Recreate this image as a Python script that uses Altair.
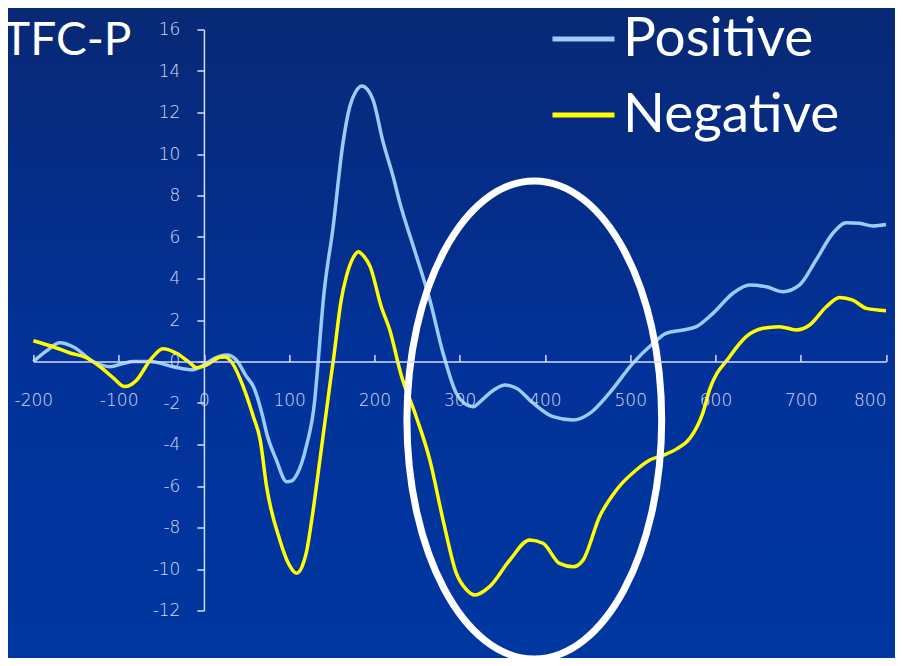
import altair as alt
import pandas as pd

# ---------------- data ----------------
series_names = ["Positive", "Negative"]
series_colors = ["#9CCBF8", "#FFFF00"]

pos_t = [-200, -185, -169, -153, -130, -110, -95, -83, -63, -36, -13, 3, 15, 27, 38, 50, 58, 69, 73.5,
         85, 97, 103, 108.7, 120, 130, 134, 140, 151.6, 163, 171, 178, 185, 192, 198.5, 210, 222, 230,
         247, 265, 280.5, 296, 305, 315.7, 325, 335, 353, 366.6, 386, 409.5, 433, 452.5, 476, 503,
         527, 542, 562, 577.6, 597, 620.5, 640, 659.6, 679, 698.7, 718, 737.7, 753.5, 769, 784.6, 800]
pos_v = [0.0, 0.5, 0.9, 0.7, 0.0, -0.25, -0.1, 0.0, 0.0, -0.25, -0.4, -0.08, 0.2, 0.31, 0.07, -0.73,
         -1.2, -2.66, -3.45, -4.75, -5.79, -5.75, -5.47, -4.1, -1.86, 0.0, 2.96, 6.5, 10.5, 12.28, 13.0,
         13.28, 13.1, 12.6, 10.6, 8.9, 7.62, 5.37, 2.96, 0.4, -1.53, -2.0, -2.18, -1.9, -1.53, -1.13,
         -1.29, -2.0, -2.66, -2.82, -2.5, -1.5, -0.09, 0.88, 1.36, 1.52, 1.68, 2.32, 3.29, 3.69, 3.6,
         3.36, 3.69, 4.89, 6.18, 6.69, 6.66, 6.53, 6.6]

neg_t = [-200, -177, -157, -137, -122, -106, -93, -79, -63, -48, -32, -16, -9, 3, 19, 25, 32, 46, 58,
         66, 73.5, 89, 100, 108.7, 115, 120, 128, 136, 148, 151.6, 161, 167, 175, 181, 188, 195, 208,
         218, 231, 249, 265, 280.5, 296, 308, 317.7, 335, 358.7, 382, 397.8, 417, 433, 444.7, 464,
         483.8, 507, 523, 540, 555, 570, 585, 593, 616.6, 636, 655.7, 675, 694.8, 710.5, 730, 745.6,
         761, 777, 800]
neg_v = [1.0, 0.71, 0.41, 0.17, -0.25, -0.8, -1.21, -0.9, 0.07, 0.62, 0.4, -0.08, -0.3, -0.17, 0.2,
         0.22, 0.0, -1.2, -2.66, -3.78, -6.03, -8.6, -9.8, -10.2, -9.9, -9.24, -7.2, -4.75, -1.05, 0.0,
         2.96, 4.09, 5.0, 5.29, 5.05, 4.57, 2.64, 1.52, -0.6, -2.66, -4.75, -7.64, -10.2, -11.0, -11.25,
         -10.85, -9.57, -8.6, -8.76, -9.73, -9.89, -9.57, -7.48, -6.19, -5.23, -4.75, -4.5, -4.2, -3.7,
         -2.5, -1.37, 0.23, 1.2, 1.6, 1.68, 1.52, 1.76, 2.64, 3.09, 2.96, 2.56, 2.45]

title_text = "TFC-P"
x_ticks = list(range(-200, 801, 100))
y_ticks = list(range(-12, 17, 2))
x_domain = [-200, 800]
y_domain = [-12, 16]
roi_center = {"t": 387.5, "v": -2.82}   # highlighted window (ellipse)

# ---------------- layout / style ----------------
W, H = 852.6, 581.0
zero_y = H * (y_domain[1] - 0) / (y_domain[1] - y_domain[0])
zero_x = W * (0 - x_domain[0]) / (x_domain[1] - x_domain[0])
AX = "#D6DCF2"
AXFONT = "DejaVu Sans"
BIGFONT = "Lato"

df = pd.concat([
    pd.DataFrame({"t": pos_t, "v": pos_v, "series": series_names[0]}),
    pd.DataFrame({"t": neg_t, "v": neg_v, "series": series_names[1]}),
])

last_x = x_ticks[-1]
x_axis = alt.Axis(orient="top", offset=-zero_y, values=x_ticks, title=None, grid=False, zindex=1,
                  tickSize=7, tickWidth=1.5, tickColor=AX, domainColor=AX, domainWidth=1.5,
                  labelColor=AX, labelFont=AXFONT, labelFontSize=17, labelFontWeight=200,
                  labelExpr="toString(datum.value)",
                  labelAlign={"condition": {"test": f"datum.value == {last_x}", "value": "right"},
                              "value": "center"},
                  labelBaseline="top", labelPadding=-37.5, labelFlush=False, labelOverlap=False)
y_axis = alt.Axis(orient="left", offset=-zero_x, values=y_ticks, title=None, grid=False, zindex=1,
                  tickSize=7, tickWidth=1.5, tickColor=AX, domainColor=AX, domainWidth=1.5,
                  labelColor=AX, labelFont=AXFONT, labelFontSize=17, labelFontWeight=200,
                  labelExpr="toString(datum.value)",
                  labelPadding=17, labelFlush=False, labelOverlap=False)
x_scale = alt.Scale(domain=x_domain, nice=False, zero=False)
y_scale = alt.Scale(domain=y_domain, nice=False, zero=False)

color = alt.Color("series:N",
                  scale=alt.Scale(domain=series_names, range=series_colors),
                  legend=alt.Legend(orient="none", legendX=516.6, legendY=-24, title=None,
                                    symbolType="stroke", symbolSize=3844, symbolStrokeWidth=5,
                                    labelFont=BIGFONT, labelFontSize=55, labelColor="white",
                                    labelOffset=6, rowPadding=14, padding=0, labelLimit=500))

bg = alt.Chart(pd.DataFrame({"a": [0]})).mark_rect(
    fill=alt.Gradient(gradient="linear", x1=0, x2=0, y1=0, y2=1,
                      stops=[alt.GradientStop(color="#082874", offset=0),
                             alt.GradientStop(color="#02329a", offset=0.55),
                             alt.GradientStop(color="#0037a0", offset=1)])
).encode(x=alt.value(-40), x2=alt.value(W + 20), y=alt.value(-30), y2=alt.value(H + 60))

def line_layer(name):
    return alt.Chart(df).transform_filter(alt.datum.series == name).mark_line(
        strokeWidth=3.5, interpolate="monotone"
    ).encode(
        x=alt.X("t:Q", scale=x_scale, axis=x_axis),
        y=alt.Y("v:Q", scale=y_scale, axis=y_axis),
        color=color,
    )

ellipse_path = ("M 0 -1 C 0.2944 -1 0.533 -0.5523 0.533 0 C 0.533 0.5523 0.2944 1 0 1 "
                "C -0.2944 1 -0.533 0.5523 -0.533 0 C -0.533 -0.5523 -0.2944 -1 0 -1 Z")
ellipse = alt.Chart(pd.DataFrame([roi_center])).mark_point(
    shape=ellipse_path, size=478 ** 2, filled=False, stroke="white", strokeWidth=7, opacity=1
).encode(
    x=alt.X("t:Q", scale=x_scale, axis=x_axis),
    y=alt.Y("v:Q", scale=y_scale, axis=y_axis),
)

title = alt.Chart(pd.DataFrame({"label": [title_text]})).mark_text(
    align="right", baseline="alphabetic", font=BIGFONT, fontSize=46, color="white"
).encode(text="label:N", x=alt.value(98), y=alt.value(25))

chart = alt.layer(bg, line_layer(series_names[0]), line_layer(series_names[1]), ellipse, title).properties(
    width=W, height=H,
    autosize=alt.AutoSizeParams(type="none"),
    padding={"left": 25.4, "top": 21.5, "right": 9, "bottom": 47.5},
    background="#03319a",
).configure_view(stroke=None)

chart.save("out.html", embed_options={"renderer": "svg", "actions": False})
